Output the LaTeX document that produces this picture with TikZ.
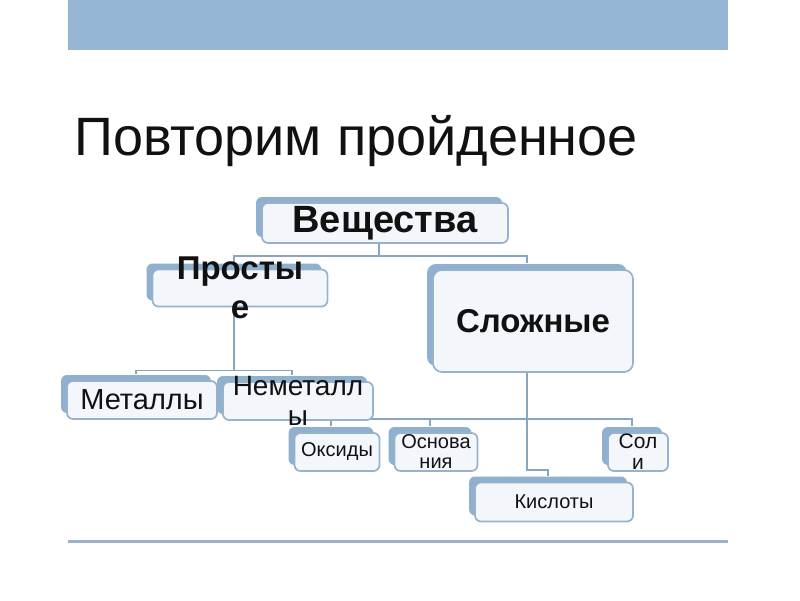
\documentclass[tikz,border=0pt]{standalone}
\usepackage{fontspec}
\setmainfont{Liberation Sans}
\usepackage{xcolor}
\usetikzlibrary{shadows, backgrounds, calc}

\definecolor{barblue}{HTML}{94B6D2}
\definecolor{shblue}{HTML}{8FB0CE}
\definecolor{edgeblue}{HTML}{98B2CA}
\definecolor{boxfill}{HTML}{F3F7FB}
\definecolor{lineblue}{HTML}{8AA5BE}
\definecolor{inkgray}{HTML}{111111}

\tikzset{
  %% SmartArt box with offset shadow
  sbox/.style={
    rectangle, rounded corners=6pt,
    draw=edgeblue, fill=boxfill, line width=1.7pt,
    general shadow={fill=shblue, shadow xshift=-6pt, shadow yshift=6pt},
    inner sep=0pt
  },
  %% Connector
  conn/.style={draw=lineblue, line width=1.5pt},
  %% Box texts
  btxt/.style 2 args={
    font=\fontsize{#1}{#2}\selectfont\bfseries,
    text=inkgray, align=center, inner sep=0pt
  },
  ntxt/.style 2 args={
    font=\fontsize{#1}{#2}\selectfont,
    text=inkgray, align=center, inner sep=0pt
  },
}

\begin{document}
\begin{tikzpicture}[x=1pt, y=-1pt]

  \useasboundingbox (0,0) rectangle (800,600);

  %% ---- Slide frame ----
  \fill[barblue] (68,0) rectangle (728,50);
  \draw[lineblue!85, line width=3pt] (68,541) -- (728,541);

  \node[anchor=base west, inner sep=0pt, text=inkgray,
        font=\fontsize{54}{60}\selectfont] (title) at (74,155)
       {Повторим пройденное};

  %% ---- Boxes ----
  \node[sbox, minimum width=246pt, minimum height=40pt] (veshch) at (385,223) {};
  \node[sbox, minimum width=175pt, minimum height=37pt] (prost) at (240,288) {};
  \node[sbox, minimum width=200pt, minimum height=102pt,
        rounded corners=9pt] (slozh) at (533,321) {};
  \node[sbox, minimum width=150pt, minimum height=38pt] (metal) at (142,400) {};
  \node[sbox, minimum width=150pt, minimum height=38pt] (nemet) at (298,401) {};
  \node[sbox, minimum width=85pt,  minimum height=38pt] (oksid) at (337,452) {};
  \node[sbox, minimum width=83pt,  minimum height=38pt] (osnov) at (436,452) {};
  \node[sbox, minimum width=60pt,  minimum height=38pt] (soli) at (638,452) {};
  \node[sbox, minimum width=158pt, minimum height=39pt] (kislot) at (554,502) {};

  %% ---- Texts ----
  \node[btxt={38}{44}] (veshchT) at (veshch) {Вещества};
  \node[btxt={33}{39}] (prostT) at (prost) {Просты\\е};
  \node[btxt={33}{39}] (slozhT) at (slozh) {Сложные};
  \node[ntxt={29}{32}] (metalT) at (metal) {Металлы};
  \node[ntxt={28}{30}] (nemetT) at (nemet) {Неметалл\\ы};
  \node[ntxt={20}{22}] (oksidT) at (oksid) {Оксиды};
  \node[ntxt={20}{20}] (osnovT) at (osnov) {Основа\\ния};
  \node[ntxt={21}{21}] (soliT) at (soli) {Сол\\и};
  \node[ntxt={20}{22}] (kislotT) at (kislot) {Кислоты};

  %% ---- Connectors ----
  \begin{scope}[on background layer]
    \foreach \b in {prost, slozh}
      \draw[conn] ([xshift=-6pt]veshch.south) -- ++(0,12)
                  -| ([shift={(-6pt,6pt)}]\b.north);
    \foreach \b in {metal, nemet}
      \draw[conn] ([xshift=-6pt]prost.south) -- ++(0,63)
                  -| ([shift={(-6pt,6pt)}]\b.north);
    \foreach \b in {oksid, osnov, soli}
      \draw[conn] ([xshift=-6pt]slozh.south) -- ++(0,46)
                  -| ([shift={(-6pt,6pt)}]\b.north);
    \draw[conn] ([xshift=-6pt]slozh.south) -- ++(0,97)
                -| ([shift={(-6pt,6pt)}]kislot.north);
  \end{scope}

\end{tikzpicture}
\end{document}
